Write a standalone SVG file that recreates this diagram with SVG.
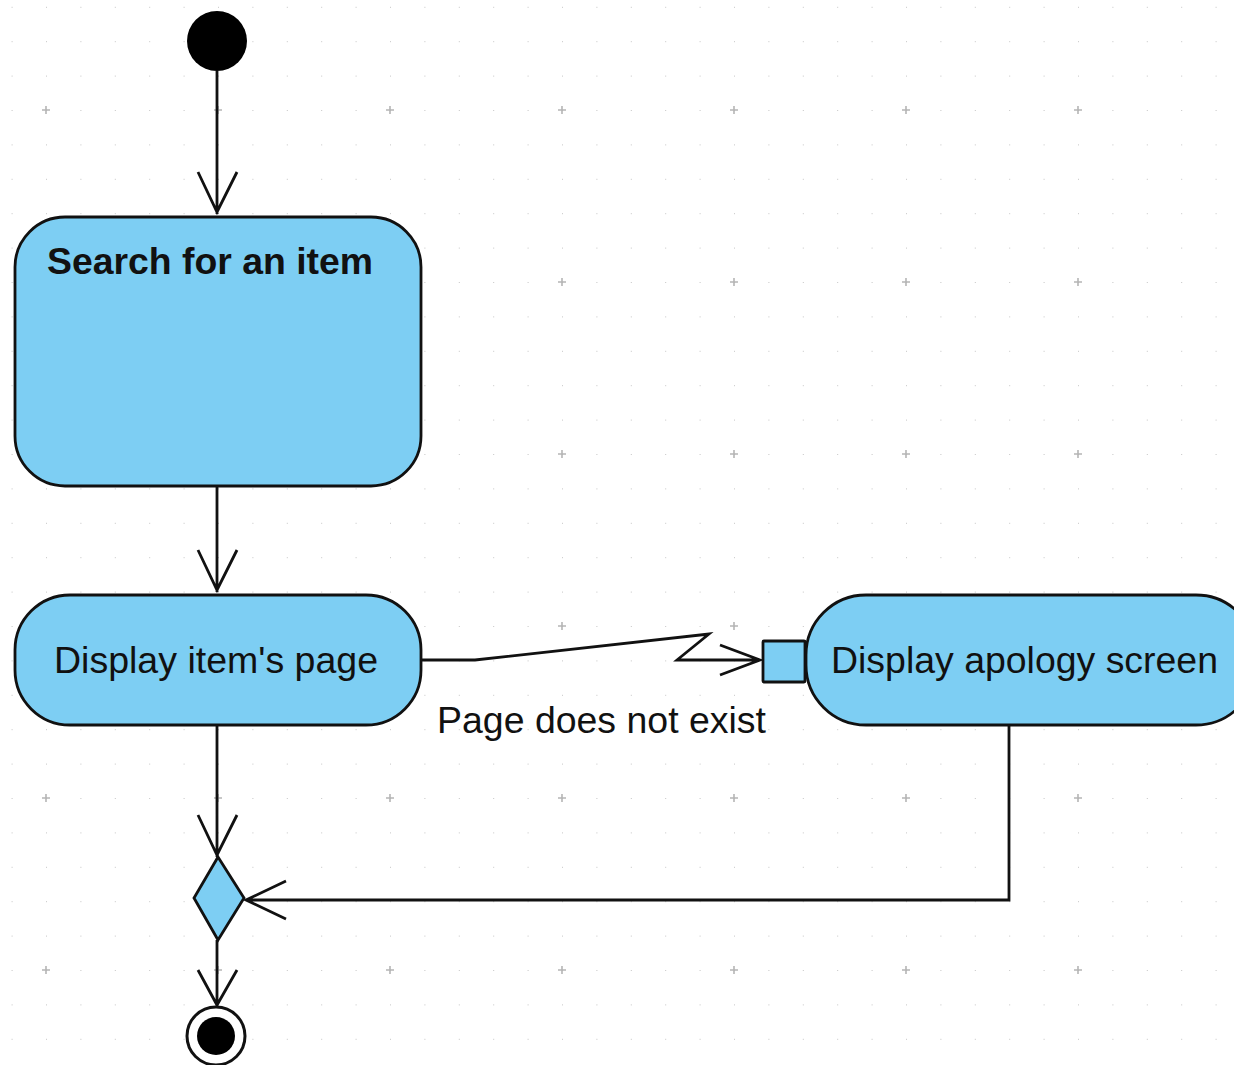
<svg xmlns="http://www.w3.org/2000/svg" width="1234" height="1065" viewBox="0 0 1234 1065">
<style>
.node{fill:#7dcef3;stroke:#111;stroke-width:2.8}
.edge{fill:none;stroke:#111;stroke-width:2.8}
.lbl{font-family:"Liberation Sans",Arial,sans-serif;font-size:36px;fill:#111}
.bold{font-weight:bold}
</style>
<defs>
<pattern id="dots" patternUnits="userSpaceOnUse" x="11.6" y="6.8" width="34.4" height="34.4">
<rect x="-1" y="-1" width="2" height="2" fill="#c4c4c4"/>
</pattern>
<pattern id="cross" patternUnits="userSpaceOnUse" x="46" y="110" width="172" height="172">
<path d="M-4 0H4M0 -4V4M168 0H176M172 -4V4M-4 172H4M0 168V176M168 172H176M172 168V176" stroke="#b5b5b5" stroke-width="1.6"/>
</pattern>
</defs>
<rect width="1234" height="1065" fill="#fff"/>
<rect width="1234" height="1065" fill="url(#dots)"/>
<rect width="1234" height="1065" fill="url(#cross)"/>
<g id="connectors">
<path class="edge" d="M217 71V214M198 172L217 212L237 172"/>
<path class="edge" d="M217 486V592M198 550L217 590L237 550"/>
<path class="edge" d="M421 660H475L709 634L677 660H760M720 645L760 660L720 675"/>
<path class="edge" d="M217 725V857M198 815L217 855L237 815"/>
<path class="edge" d="M1009 725V900H246M286 881L246 900L286 919"/>
<path class="edge" d="M217 940V1006M198 970L217 1005L237 970"/>
</g>
<g id="start"><circle cx="217" cy="41" r="30" fill="#000"/></g>
<g id="search">
<rect class="node" x="15" y="217" width="406" height="269" rx="50"/>
<text class="lbl bold" x="47" y="274" textLength="326" lengthAdjust="spacingAndGlyphs">Search for an item</text>
</g>
<g id="display">
<rect class="node" x="15" y="595" width="406" height="130" rx="55"/>
<text class="lbl" x="54" y="673" textLength="324" lengthAdjust="spacingAndGlyphs">Display item's page</text>
</g>
<g id="label"><text class="lbl" x="437" y="733" textLength="329" lengthAdjust="spacingAndGlyphs">Page does not exist</text></g>
<g id="pin"><rect class="node" x="763" y="641" width="42" height="41" rx="1"/></g>
<g id="apology">
<rect class="node" x="806" y="595" width="450" height="130" rx="60"/>
<text class="lbl" x="831" y="673" textLength="387" lengthAdjust="spacingAndGlyphs">Display apology screen</text>
</g>
<g id="merge"><path class="node" d="M218 857L244 898L218 940L194 898Z"/></g>
<g id="end">
<circle cx="216" cy="1036" r="29" fill="#fff" stroke="#111" stroke-width="3"/>
<circle cx="216" cy="1036" r="19" fill="#000"/>
</g>
</svg>
